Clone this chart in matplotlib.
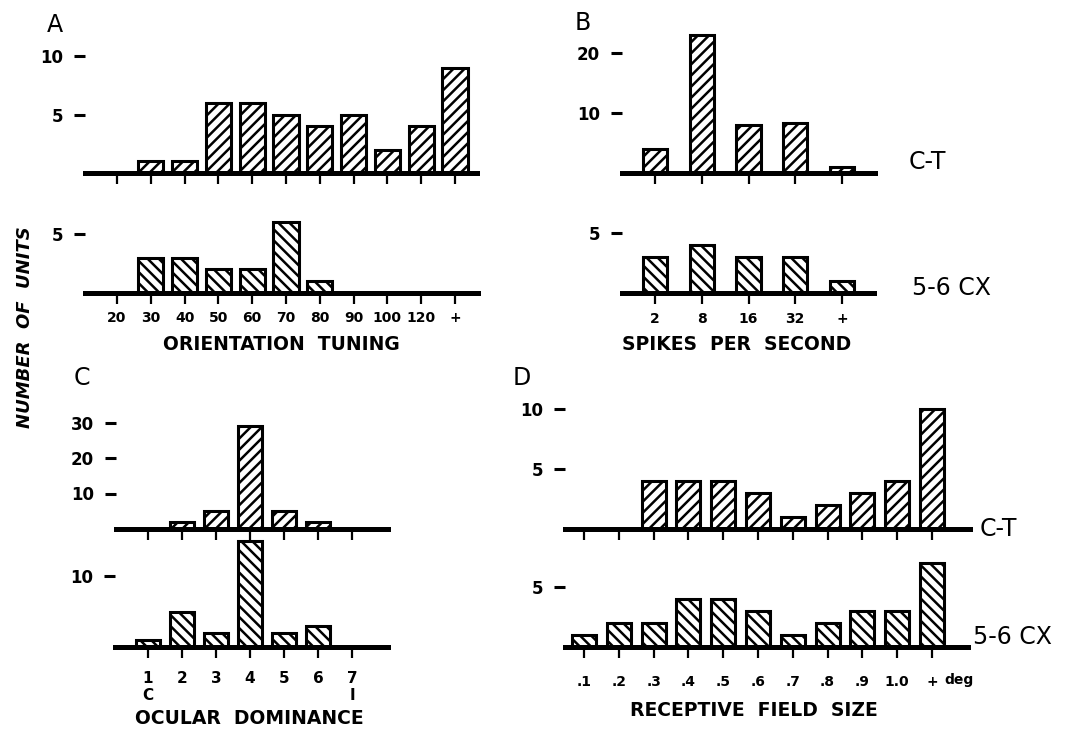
import matplotlib
matplotlib.use("Agg")
import matplotlib.pyplot as plt

plt.rcParams['font.family'] = 'DejaVu Sans'
plt.rcParams['font.weight'] = 'bold'
plt.rcParams['hatch.linewidth'] = 1.8
plt.rcParams['hatch.color'] = 'black'

# data
orient_cats = ['20', '30', '40', '50', '60', '70', '80', '90', '100', '120', '+']
orient_ct = [0, 1, 1, 6, 6, 5, 4, 5, 2, 4, 9]
orient_cx = [0, 3, 3, 2, 2, 6, 1, 0, 0, 0, 0]

spike_cats = ['2', '8', '16', '32', '+']
spike_ct = [4, 23, 8, 8.3, 1]
spike_cx = [3, 4, 3, 3, 1]

ocular_cats = ['1\nC', '2', '3', '4', '5', '6', '7\nI']
ocular_ct = [0, 2, 5, 29, 5, 2, 0]
ocular_cx = [1, 5, 2, 15, 2, 3, 0]

rf_cats = ['.1', '.2', '.3', '.4', '.5', '.6', '.7', '.8', '.9', '1.0', '+']
rf_ct = [0, 0, 4, 4, 4, 3, 1, 2, 3, 4, 10]
rf_cx = [1, 2, 2, 4, 4, 3, 1, 2, 3, 3, 7]

W, H = 1069, 732
fig = plt.figure(figsize=(W / 100, H / 100), dpi=100)

UP = '///'
DOWN = '\\\\\\'


def panel(x0, x1, base, unit, t0, step, ymax, cats, vals, hatch, width,
          yticks, labels=False, pad=5, lsize=10):
    ax = fig.add_axes([x0 / W, 1 - base / H, (x1 - x0) / W, ymax * unit / H])
    ax.set_xlim((x0 - t0) / step, (x1 - t0) / step)
    ax.set_ylim(0, ymax)
    ax.bar(range(len(vals)), vals, width=width, facecolor='white',
           edgecolor='black', linewidth=2.2, hatch=hatch)
    for s in ['left', 'right', 'top']:
        ax.spines[s].set_visible(False)
    ax.spines['bottom'].set_linewidth(3.6)
    ax.set_xticks(range(len(cats)))
    ax.set_xticklabels(cats if labels else [])
    ax.tick_params(axis='x', direction='out', length=8, width=1.6,
                   pad=pad, labelsize=lsize)
    ax.set_yticks(yticks)
    ax.tick_params(axis='y', direction='out', length=8, width=2.2,
                   pad=8, labelsize=12)
    ax.patch.set_alpha(0)
    return ax


# A
panel(85, 477, 173, 11.7, 117, 33.8, 10.5, orient_cats, orient_ct, UP, 0.74, [5, 10])
axA = panel(85, 478, 293, 11.8, 117, 33.8, 6.5, orient_cats, orient_cx, DOWN, 0.74, [5],
            labels=True, pad=5, lsize=10)
fig.text(281 / W, 1 - 345 / H, 'ORIENTATION  TUNING', ha='center', va='center', fontsize=13.5)

# B
panel(622, 875, 173, 6.0, 655, 46.75, 24, spike_cats, spike_ct, UP, 0.52, [10, 20])
panel(622, 874, 293, 12.0, 655, 46.75, 5.2, spike_cats, spike_cx, DOWN, 0.52, [5],
      labels=True, pad=6, lsize=10)
fig.text(737 / W, 1 - 345 / H, 'SPIKES  PER  SECOND', ha='center', va='center', fontsize=13.5)
fig.text(927 / W, 1 - 162 / H, 'C-T', ha='center', va='center', fontsize=17, fontweight='normal')
fig.text(951 / W, 1 - 288 / H, '5-6 CX', ha='center', va='center', fontsize=17, fontweight='normal')

# C
panel(116, 388, 529, 3.55, 148, 34, 31, ocular_cats, ocular_ct, UP, 0.68, [10, 20, 30])
panel(115, 388, 647, 7.1, 148, 34, 15.3, ocular_cats, ocular_cx, DOWN, 0.68, [10],
      labels=True, pad=9, lsize=11)
fig.text(249 / W, 1 - 718 / H, 'OCULAR  DOMINANCE', ha='center', va='center', fontsize=13.5)

# D
panel(565, 970, 529, 12.0, 584, 34.8, 10.3, rf_cats, rf_ct, UP, 0.69, [5, 10])
panel(565, 968, 647, 12.0, 584, 34.8, 7.3, rf_cats, rf_cx, DOWN, 0.69, [5],
      labels=True, pad=12, lsize=10)
fig.text(959 / W, 1 - 680 / H, 'deg', ha='center', va='center', fontsize=10)
fig.text(754 / W, 1 - 710 / H, 'RECEPTIVE  FIELD  SIZE', ha='center', va='center', fontsize=13.5)
fig.text(998 / W, 1 - 529 / H, 'C-T', ha='center', va='center', fontsize=17, fontweight='normal')
fig.text(1012 / W, 1 - 637 / H, '5-6 CX', ha='center', va='center', fontsize=17, fontweight='normal')

# panel letters and shared y label
for letter, x, y in [('A', 55, 25), ('B', 583, 23), ('C', 82, 378), ('D', 522, 378)]:
    fig.text(x / W, 1 - y / H, letter, ha='center', va='center', fontsize=17, fontweight='normal')
fig.text(25 / W, 1 - 327 / H, 'NUMBER  OF  UNITS', rotation=90, ha='center', va='center',
         fontsize=13, style='italic')

fig.savefig('out.png', dpi=100, facecolor='white')
